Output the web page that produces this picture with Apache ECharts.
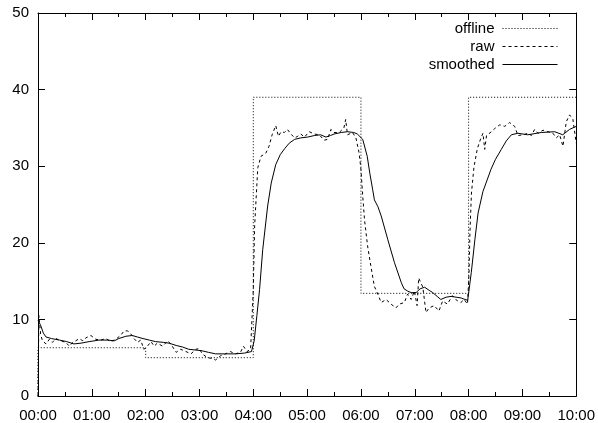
<!DOCTYPE html>
<html>
<head>
<meta charset="utf-8">
<script src="https://cdn.jsdelivr.net/npm/echarts@6/dist/echarts.min.js"></script>
<style>
html,body{margin:0;padding:0;background:#fff;}
#chart{width:598px;height:423px;}
</style>
</head>
<body>
<div id="chart"></div>
<script>
// time in minutes since 00:00
const offlineTimes = [0, 0, 120, 240, 360, 480, 600];
const offlineValues = [0, 6.3, 5.0, 39.0, 13.4, 39.0, 39.0];

const rawTimes = [0,1,3,5,9,12.6,16,20,25.6,31,35,38.6,42,46,50,53.5,59,64.5,70,75.7,81,86.8,92,96,100,103.5,107,111,114.5,118,122,126,129.5,133,139,144.5,148,154,159,165,170.5,176,180,183,189,194.5,198,203.5,209,214.5,220,225.7,229,233,237,240,241.5,245,248.6,254,257.5,261,265,268,271,274.6,278,282,286,289.5,293,297,302.4,308,313.5,319,322.8,326.5,330,335.8,341,343,345,350.6,354.4,358,360,362,364,367.4,371,375,378.8,382.6,388,393.5,399,402.8,408.4,412,416,419.6,422.6,424.4,429,432.5,436,441.6,447,451,456.4,462,467.6,471.4,475,478.8,480.5,481.5,483.2,486,489.8,493.5,496,498,500,505.4,509,514.7,520.3,525.8,531.4,535,540.7,546.3,550,553.6,557.4,563,568.5,574,577.8,581.5,585.2,588.9,592.6,596.3,600];
const rawValues = [0,10.5,8.0,7.2,6.8,7.4,7.0,7.5,7.2,7.0,6.5,7.0,7.2,7.5,7.2,7.6,7.9,7.4,7.3,7.5,7.1,7.4,7.9,8.5,8.5,8.1,7.5,7.0,7.3,6.1,6.5,7.1,6.5,6.9,6.5,7.2,6.8,5.7,6.1,5.8,5.5,6.1,6.2,5.5,5.0,4.9,4.7,5.25,5.5,5.8,5.5,5.7,6.5,5.8,6.1,13.9,22.2,29.8,31.3,31.7,32.6,34.1,35.3,33.9,34.5,34.4,34.8,34.2,33.7,33.9,34.2,33.8,34.5,34.2,34.1,33.4,33.5,34.8,34.4,34.4,35.0,36.1,34.1,34.4,33.7,31.7,29.6,26.1,23.0,19.6,17.0,14.3,13.3,12.2,12.6,12.0,11.5,12.0,12.2,13.3,12.6,13.7,11.8,15.4,14.2,10.9,11.5,11.8,11.1,12.4,12.0,13.1,12.4,12.2,12.6,12.0,16.1,21.3,26.5,29.9,32.3,33.6,34.3,32.2,34.0,34.5,34.9,35.4,35.2,35.7,35.2,34.0,34.1,34.3,34.0,34.8,34.3,34.7,34.5,34.3,33.7,34.1,32.6,35.8,36.7,36.1,33.0];

const smoothTimes = [0,3,6,9,15,24,32,40,48,57,68,78,85,90,98,105,111,117,124,131,140,146,154,161,168,176,183,190,198,208,220,230,238,241,244,247,250.5,256,260,265,270,275,280,286,293,300.5,308,315,321,326,330,338,345,352,356,362,367,370,373,375,379,382.6,390,397.4,405,408,412,416,421.5,426,431,436,440,445,449,455,460.5,466,471.6,476,479,483,487,490.6,496,505,510,516.5,522,527.7,535,546,561,576,585,592.5,600];
const smoothValues = [9.9,9.2,8.2,7.7,7.5,7.3,7.1,6.8,6.9,7.1,7.3,7.3,7.2,7.5,7.8,7.9,7.7,7.5,7.3,7.1,7.0,6.9,6.6,6.4,6.1,6.0,5.9,5.7,5.5,5.5,5.5,5.6,5.8,7.2,10.5,13.9,19.1,24.8,27.8,30.2,31.5,32.3,33.0,33.5,33.7,33.8,34.0,34.1,33.8,34.0,34.2,34.4,34.5,34.4,34.2,33.5,31.3,29.0,27.0,25.6,24.7,23.5,20.4,17.4,14.8,14.0,13.7,13.5,13.5,14.0,14.2,13.8,13.5,13.0,12.6,12.9,13.0,12.9,12.8,12.6,12.5,16.1,20.4,23.9,26.7,29.6,30.9,32.2,33.3,34.1,34.3,34.1,34.4,34.5,34.1,34.8,35.2];

const xTickStep = 60;
const yTicks = [0, 10, 20, 30, 40, 50];

function zip(a, b) { return a.map((t, i) => [t, b[i]]); }
function fmt(v) {
  const h = Math.floor(v / 60), m = Math.round(v % 60);
  return String(h).padStart(2, '0') + ':' + String(m).padStart(2, '0');
}

const FONT = 'Liberation Sans, Arial, Helvetica, sans-serif';
const axisLine = { show: true, onZero: false, lineStyle: { color: '#000', width: 1 } };
const tick = { show: true, inside: true, length: 7, lineStyle: { color: '#000', width: 1 } };
const minor = { show: true, splitNumber: 2, length: 4, lineStyle: { color: '#000', width: 1 } };

const chart = echarts.init(document.getElementById('chart'), null, { renderer: 'canvas' });
chart.setOption({
  animation: false,
  backgroundColor: '#fff',
  grid: { left: 38, right: 21, top: 13, bottom: 26, containLabel: false },
  legend: {
    orient: 'vertical',
    right: 40,
    top: 21,
    padding: 0,
    align: 'right',
    itemWidth: 55,
    itemHeight: 14,
    itemGap: 3,
    itemStyle: { color: 'rgba(0,0,0,0)', borderColor: 'rgba(0,0,0,0)', borderWidth: 0, opacity: 0 },
    lineStyle: { width: 1 },
    textStyle: { fontFamily: FONT, fontSize: 15, color: '#000', padding: [0, 3, 0, 0] },
    data: ['offline', 'raw', 'smoothed']
  },
  xAxis: [
    {
      type: 'value', min: 0, max: 600, interval: xTickStep, position: 'bottom',
      axisLine: axisLine, axisTick: tick, minorTick: minor,
      splitLine: { show: false },
      axisLabel: { formatter: fmt, fontFamily: FONT, fontSize: 15, color: '#000', margin: 12 }
    },
    {
      type: 'value', min: 0, max: 600, interval: xTickStep, position: 'top',
      axisLine: axisLine, axisTick: tick, minorTick: minor,
      splitLine: { show: false },
      axisLabel: { show: false }
    }
  ],
  yAxis: [
    {
      type: 'value', min: yTicks[0], max: yTicks[yTicks.length - 1], interval: 10, position: 'left',
      axisLine: axisLine, axisTick: tick, splitLine: { show: false },
      axisLabel: { fontFamily: FONT, fontSize: 15, color: '#000', margin: 9 }
    },
    {
      type: 'value', min: yTicks[0], max: yTicks[yTicks.length - 1], interval: 10, position: 'right',
      axisLine: axisLine, axisTick: tick, splitLine: { show: false },
      axisLabel: { show: false }
    }
  ],
  series: [
    {
      name: 'offline', type: 'line', step: 'end', symbol: 'none', showSymbol: false,
      xAxisIndex: 0, yAxisIndex: 0,
      data: zip(offlineTimes, offlineValues),
      lineStyle: { color: '#000', width: 1, type: [1, 2] },
      itemStyle: { color: '#000' }
    },
    {
      name: 'raw', type: 'line', symbol: 'none', showSymbol: false,
      xAxisIndex: 0, yAxisIndex: 0,
      data: zip(rawTimes, rawValues),
      lineStyle: { color: '#000', width: 1, type: [3, 3] },
      itemStyle: { color: '#000' }
    },
    {
      name: 'smoothed', type: 'line', symbol: 'none', showSymbol: false,
      xAxisIndex: 0, yAxisIndex: 0,
      data: zip(smoothTimes, smoothValues),
      lineStyle: { color: '#000', width: 1, type: 'solid' },
      itemStyle: { color: '#000' }
    }
  ]
});
</script>
</body>
</html>
